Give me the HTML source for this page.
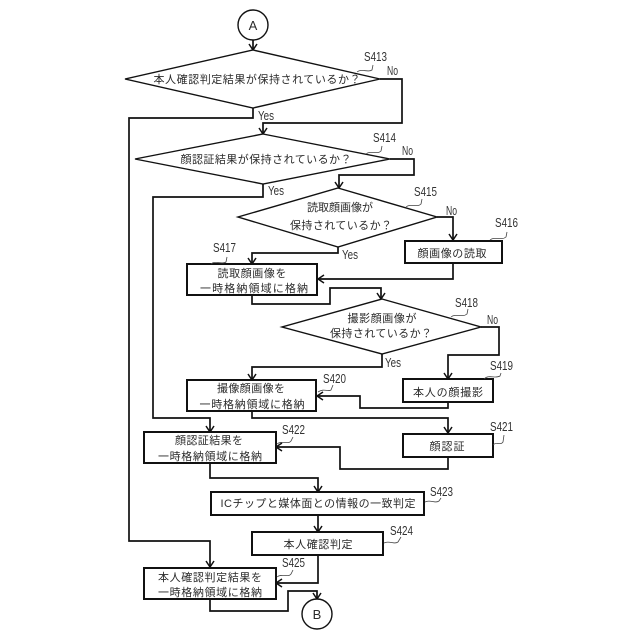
<!DOCTYPE html>
<html><head><meta charset="utf-8">
<style>
html,body{margin:0;padding:0;background:#fff}
svg{display:block}
text{font-family:"Liberation Sans","Noto Sans CJK JP",sans-serif;fill:#2a2a2a}
.t{font-size:11px;text-anchor:middle}
.l{font-size:12.5px;fill:#333}
.a{font-size:13px;text-anchor:middle}
.s{fill:#fff;stroke:#111;stroke-width:1.4}
.b{fill:#fff;stroke:#111;stroke-width:2}
.c{fill:none;stroke:#111;stroke-width:1.7}
.w{fill:none;stroke:#444;stroke-width:.8}
.h{fill:none;stroke:#111;stroke-width:1.5}
</style></head><body>
<svg width="640" height="640" viewBox="0 0 640 640" xmlns="http://www.w3.org/2000/svg">
<rect width="640" height="640" fill="#fff"/>
<!-- connectors -->
<path class="c" d="M253 40V50M380 79H402V123H263V134M253 108V118H129V541H210V567M390 159H414V175H339V188M263 184V197H153V418H210V432M437 217H453V240M453 263V279H318M338 247V253H252V264M252 295V304H330V288H381V299M481 327H499V355H448V379M448 402V408H360V396H317M382 354V367H252V380M252 411V418H448V433M448 457V469H340V447H276M210 463V478H318V492M318 515V532M318 555V583H276M210 599V611H288V591H317V599"/>
<!-- arrowheads -->
<path class="h" d="M249 44L253 50L257 44M259 128L263 134L267 128M335 182L339 188L343 182M206 561L210 567L214 561M206 426L210 432L214 426M449 234L453 240L457 234M324 275L318 279L324 283M248 258L252 264L256 258M377 293L381 299L385 293M444 373L448 379L452 373M323 392L317 396L323 400M248 374L252 380L256 374M444 427L448 433L452 427M282 443L276 447L282 451M314 486L318 492L322 486M314 526L318 532L322 526M282 579L276 583L282 587M313 593L317 599L321 593"/>
<!-- terminals -->
<circle class="s" cx="253" cy="25" r="15"/><text class="a" x="253" y="30">A</text>
<circle class="s" cx="317" cy="614" r="15"/><text class="a" x="317" y="619">B</text>
<!-- decisions -->
<polygon class="s" points="253,50 380,79 253,108 125,79"/>
<polygon class="s" points="263,134 390,159 263,184 135,159"/>
<polygon class="s" points="338,188 437,217 338,247 238,217"/>
<polygon class="s" points="382,299 481,327 382,354 282,327"/>
<!-- boxes -->
<rect class="b" x="405" y="241" width="97" height="22"/>
<rect class="b" x="187" y="264" width="130" height="31"/>
<rect class="b" x="403" y="379" width="90" height="23"/>
<rect class="b" x="187" y="380" width="129" height="31"/>
<rect class="b" x="403" y="434" width="90" height="23"/>
<rect class="b" x="144" y="432" width="132" height="31"/>
<rect class="b" x="211" y="492" width="213" height="23"/>
<rect class="b" x="252" y="532" width="131" height="23"/>
<rect class="b" x="144" y="568" width="132" height="31"/>
<!-- box/decision text -->
<text class="t" x="257" y="83" textLength="207">本人確認判定結果が保持されているか？</text>
<text class="t" x="266" y="163" textLength="171">顔認証結果が保持されているか？</text>
<text class="t" x="340" y="211" textLength="66">読取顔画像が</text>
<text class="t" x="341" y="229" textLength="102">保持されているか？</text>
<text class="t" x="452" y="257" textLength="69">顔画像の読取</text>
<text class="t" x="252" y="277" textLength="69">読取顔画像を</text>
<text class="t" x="254" y="292" textLength="108">一時格納領域に格納</text>
<text class="t" x="382" y="322" textLength="69">撮影顔画像が</text>
<text class="t" x="381" y="337" textLength="102">保持されているか？</text>
<text class="t" x="448" y="396" textLength="70">本人の顔撮影</text>
<text class="t" x="251" y="392" textLength="68">撮像顔画像を</text>
<text class="t" x="252" y="408" textLength="105">一時格納領域に格納</text>
<text class="t" x="447" y="450" textLength="35">顔認証</text>
<text class="t" x="209" y="444" textLength="68">顔認証結果を</text>
<text class="t" x="210" y="460" textLength="104">一時格納領域に格納</text>
<text class="t" x="318" y="507" textLength="195">ICチップと媒体面との情報の一致判定</text>
<text class="t" x="318" y="548" textLength="69">本人確認判定</text>
<text class="t" x="210" y="581" textLength="104">本人確認判定結果を</text>
<text class="t" x="210" y="596" textLength="104">一時格納領域に格納</text>
<!-- Yes/No -->
<text class="l" x="387" y="75" textLength="11" lengthAdjust="spacingAndGlyphs">No</text>
<text class="l" x="258" y="120" textLength="16" lengthAdjust="spacingAndGlyphs">Yes</text>
<text class="l" x="402" y="155" textLength="11" lengthAdjust="spacingAndGlyphs">No</text>
<text class="l" x="268" y="195" textLength="16" lengthAdjust="spacingAndGlyphs">Yes</text>
<text class="l" x="446" y="215" textLength="11" lengthAdjust="spacingAndGlyphs">No</text>
<text class="l" x="342" y="259" textLength="16" lengthAdjust="spacingAndGlyphs">Yes</text>
<text class="l" x="487" y="324" textLength="11" lengthAdjust="spacingAndGlyphs">No</text>
<text class="l" x="385" y="367" textLength="16" lengthAdjust="spacingAndGlyphs">Yes</text>
<!-- step labels -->
<text class="l" x="364" y="61" textLength="23" lengthAdjust="spacingAndGlyphs">S413</text>
<text class="l" x="373" y="142" textLength="23" lengthAdjust="spacingAndGlyphs">S414</text>
<text class="l" x="414" y="196" textLength="23" lengthAdjust="spacingAndGlyphs">S415</text>
<text class="l" x="495" y="227" textLength="23" lengthAdjust="spacingAndGlyphs">S416</text>
<text class="l" x="213" y="252" textLength="23" lengthAdjust="spacingAndGlyphs">S417</text>
<text class="l" x="455" y="307" textLength="23" lengthAdjust="spacingAndGlyphs">S418</text>
<text class="l" x="490" y="370" textLength="23" lengthAdjust="spacingAndGlyphs">S419</text>
<text class="l" x="323" y="383" textLength="23" lengthAdjust="spacingAndGlyphs">S420</text>
<text class="l" x="490" y="431" textLength="23" lengthAdjust="spacingAndGlyphs">S421</text>
<text class="l" x="282" y="434" textLength="23" lengthAdjust="spacingAndGlyphs">S422</text>
<text class="l" x="430" y="496" textLength="23" lengthAdjust="spacingAndGlyphs">S423</text>
<text class="l" x="390" y="535" textLength="23" lengthAdjust="spacingAndGlyphs">S424</text>
<text class="l" x="282" y="567" textLength="23" lengthAdjust="spacingAndGlyphs">S425</text>
<!-- squiggle leaders -->
<path class="w" d="M357 72C362 68 368 73 372 70L373 65"/>
<path class="w" d="M366 154C371 150 377 155 381 151L382 146"/>
<path class="w" d="M406 207C411 203 417 208 421 204L422 199"/>
<path class="w" d="M490 240C495 236 501 241 506 237L507 232"/>
<path class="w" d="M211 264C215 260 222 265 226 262L227 257"/>
<path class="w" d="M451 317C456 313 462 318 467 314L468 309"/>
<path class="w" d="M484 379C489 374 495 379 500 376L501 373"/>
<path class="w" d="M318 392C324 388 328 392 331 390L333 385"/>
<path class="w" d="M493 445C497 441 500 446 503 442L504 435"/>
<path class="w" d="M277 444C282 440 288 445 291 441L293 437"/>
<path class="w" d="M425 502C430 499 435 504 439 501L441 498"/>
<path class="w" d="M384 543C389 540 394 545 398 542L401 537"/>
<path class="w" d="M277 577C282 573 288 578 291 574L293 570"/>
</svg>
</body></html>
